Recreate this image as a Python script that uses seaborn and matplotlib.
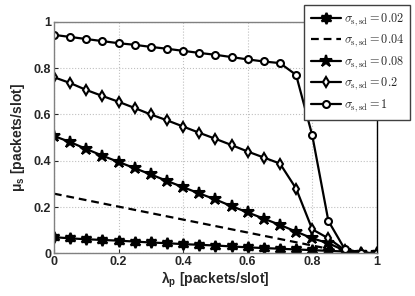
import numpy as np
import pandas as pd
import matplotlib
matplotlib.use('Agg')
import matplotlib.pyplot as plt
import seaborn as sns
from matplotlib.font_manager import FontProperties

lam = [0, 0.05, 0.1, 0.15, 0.2, 0.25, 0.3, 0.35, 0.4, 0.45, 0.5,
       0.55, 0.6, 0.65, 0.7, 0.75, 0.8, 0.85, 0.9, 0.95, 1.0]

mu_002 = [0.070, 0.065, 0.061, 0.058, 0.055, 0.051, 0.047, 0.044, 0.040, 0.037, 0.034,
          0.030, 0.026, 0.023, 0.020, 0.017, 0.014, 0.011, 0.008, 0.003, 0.0]
mu_004 = [0.258, 0.244, 0.230, 0.216, 0.202, 0.188, 0.174, 0.160, 0.146, 0.132, 0.118,
          0.104, 0.090, 0.076, 0.062, 0.048, 0.034, 0.020, 0.008, 0.002, 0.0]
mu_008 = [0.507, 0.481, 0.451, 0.422, 0.395, 0.368, 0.341, 0.313, 0.286, 0.259, 0.233,
          0.204, 0.177, 0.150, 0.123, 0.094, 0.065, 0.044, 0.012, 0.003, 0.0]
mu_02 = [0.761, 0.736, 0.706, 0.680, 0.655, 0.628, 0.600, 0.575, 0.548, 0.521, 0.495,
         0.468, 0.440, 0.414, 0.388, 0.280, 0.104, 0.065, 0.015, 0.003, 0.0]
mu_1 = [0.944, 0.935, 0.926, 0.917, 0.908, 0.901, 0.892, 0.884, 0.875, 0.866, 0.858,
        0.848, 0.838, 0.829, 0.822, 0.771, 0.510, 0.140, 0.020, 0.003, 0.0]

labels = [r'$\sigma_{\rm s,sd} = 0.02$', r'$\sigma_{\rm s,sd} = 0.04$',
          r'$\sigma_{\rm s,sd} = 0.08$', r'$\sigma_{\rm s,sd} = 0.2$',
          r'$\sigma_{\rm s,sd} = 1$']
series = [mu_002, mu_004, mu_008, mu_02, mu_1]

sns.set_style('ticks')
plt.rcParams['font.family'] = ['Liberation Sans', 'DejaVu Sans']
plt.rcParams['mathtext.fontset'] = 'custom'
plt.rcParams['mathtext.rm'] = 'Liberation Sans'
plt.rcParams['mathtext.bf'] = 'Liberation Sans:bold'
plt.rcParams['mathtext.it'] = 'Liberation Sans:italic'

fig = plt.figure(figsize=(4.15, 2.96), dpi=100)
ax = fig.add_axes([0.130, 0.144, 0.778, 0.782])

styles = [
    dict(marker=(6, 1, 0), markersize=8, linestyle='-', markerfacecolor='black'),
    dict(marker=None, dashes=(3.5, 2.2)),
    dict(marker='*', markersize=9, linestyle='-', markerfacecolor='black'),
    dict(marker='d', markersize=5.5, linestyle='-', markerfacecolor='white'),
    dict(marker='o', markersize=5, linestyle='-', markerfacecolor='white'),
]

for vals, lab, st in zip(series, labels, styles):
    sns.lineplot(x=lam, y=vals, ax=ax, color='black', linewidth=1.6,
                 markeredgecolor='black', markeredgewidth=1.5, label=lab, **st)

ax.set_xlim(0, 1)
ax.set_ylim(0, 1)
ax.set_xticks([0, 0.2, 0.4, 0.6, 0.8, 1])
ax.set_yticks([0, 0.2, 0.4, 0.6, 0.8, 1])
ax.set_xticklabels(['0', '0.2', '0.4', '0.6', '0.8', '1'])
ax.set_yticklabels(['0', '0.2', '0.4', '0.6', '0.8', '1'])
ax.tick_params(direction='in', length=3, labelsize=9, pad=2)
for t in ax.get_xticklabels() + ax.get_yticklabels():
    t.set_fontweight('bold')
ax.grid(True, linestyle=':', color='#c0c0c0', linewidth=0.8)

for s in ['left', 'top', 'bottom']:
    ax.spines[s].set_color('#808080')
ax.spines['right'].set_color('black')
for s in ax.spines.values():
    s.set_linewidth(1.0)

ax.set_xlabel('λ$_\\mathbf{p}$ [packets/slot]', fontsize=10, fontweight='bold', labelpad=1)
ax.set_ylabel('μ$_\\mathbf{s}$ [packets/slot]', fontsize=10, fontweight='bold', labelpad=5)

ax.get_legend().remove()
handles, labs = ax.get_legend_handles_labels()
leg = fig.legend(handles, labs, loc='upper right', bbox_to_anchor=(0.988, 0.983),
                 prop=FontProperties(size=8.8, math_fontfamily='cm'),
                 fancybox=False, edgecolor='#404040', framealpha=1,
                 handlelength=2.5, handletextpad=0.2, labelspacing=0.42,
                 borderpad=0.5, borderaxespad=0)
leg.get_frame().set_linewidth(1.0)

plt.savefig('out.png', dpi=100)
